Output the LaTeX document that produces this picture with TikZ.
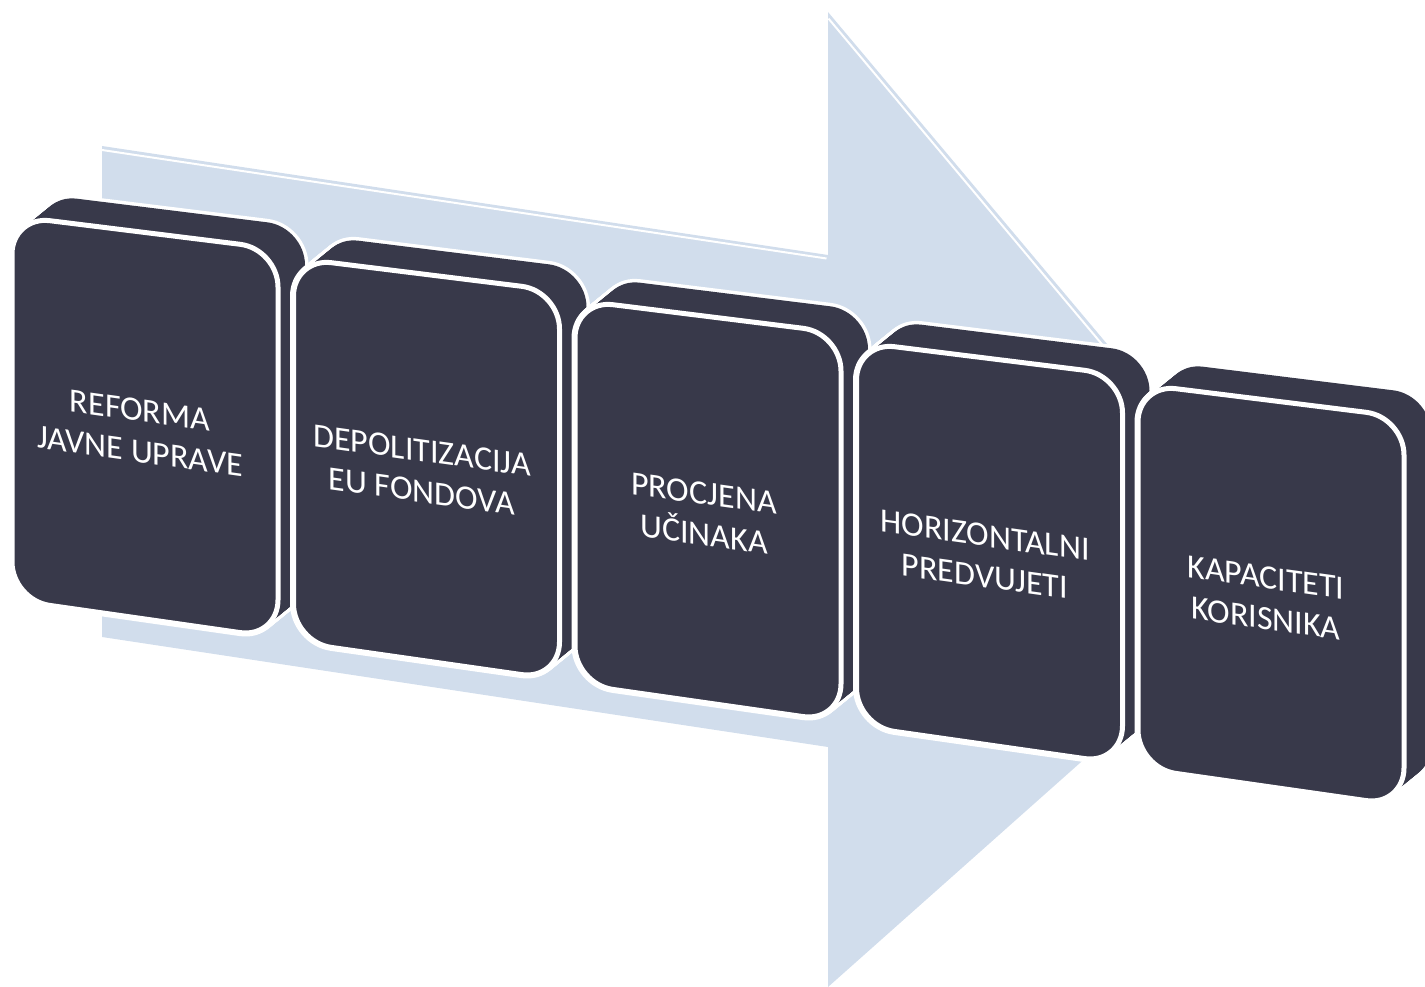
\documentclass[tikz,border=0pt]{standalone}
\usepackage{fontspec}
\setmainfont{Carlito}
\definecolor{arrowblue}{RGB}{209,221,236}
\definecolor{boxdark}{RGB}{56,57,74}
\newcommand\faceshape{(12,216) -- (278,249) -- (278,638) -- (12,600) -- cycle}
\tikzset{
  facebase/.style={rounded corners=38pt},
  silhouette/.style={facebase, draw=white, line width=7pt},
  bodyfill/.style={facebase, fill=boxdark},
  frontface/.style={facebase, draw=white, line width=5pt, fill=boxdark},
  boxtext/.style={text=white, font=\fontsize{34}{41}\selectfont, align=center, yslant=-0.14},
  bevel/.style={draw=white, line width=2pt}
}
\begin{document}
\begin{tikzpicture}[x=1pt,y=-1pt]
\useasboundingbox (0,0) rectangle (1425,987);
% big arrow
\fill[arrowblue] (102,146) -- (828,255) -- (828,12) -- (1297,570) -- (828,987) -- (828,747) -- (102,637) -- cycle;
\coordinate (sa) at (102,150);
\coordinate (sb) at (826.5,258.5);
\coordinate (ha) at (828.5,18.6);
\coordinate (hb) at (1200,461);
\path[bevel] (sa) -- (sb);
\path[bevel] (ha) -- (hb);
% blocks
\foreach \i in {0,...,4} {
  \begin{scope}[shift={(281.5*\i,42*\i)}]
    \foreach \t in {0,0.05,...,1.001} {
      \path[silhouette, shift={(27*\t,-22*\t)}] \faceshape;
    }
    \foreach \t in {0,0.05,...,1.001} {
      \path[bodyfill, shift={(27*\t,-22*\t)}] \faceshape;
    }
    \path[frontface] \faceshape;
  \end{scope}
}
% texts
\node[boxtext] (t1) at (140,431) {REFORMA\\JAVNE UPRAVE};
\node[boxtext] (t2) at (422,471) {DEPOLITIZACIJA\\EU FONDOVA};
\node[boxtext] (t3) at (704,514) {PROCJENA\\UČINAKA};
\node[boxtext] (t4) at (985,556) {HORIZONTALNI\\PREDVUJETI};
\node[boxtext] (t5) at (1266,598) {KAPACITETI\\KORISNIKA};
\end{tikzpicture}
\end{document}
